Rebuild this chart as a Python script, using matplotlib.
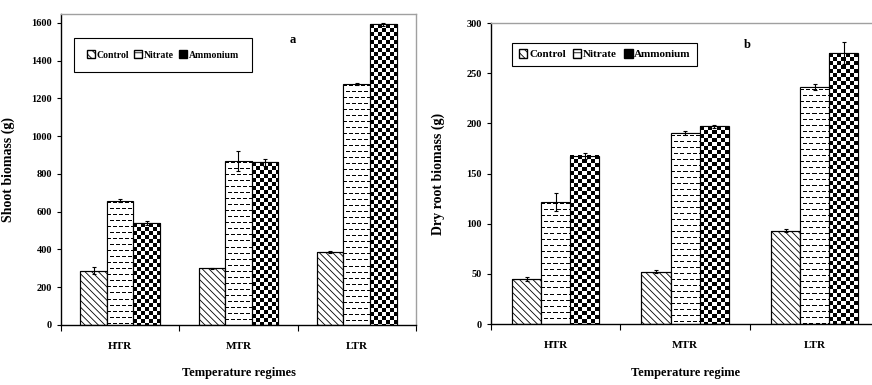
import matplotlib
matplotlib.use('Agg')
import matplotlib.pyplot as plt
import numpy as np
from matplotlib.patches import Patch

plt.rcParams['font.family'] = ['Liberation Serif', 'DejaVu Serif']
plt.rcParams['font.weight'] = 'bold'
plt.rcParams['axes.labelweight'] = 'bold'
plt.rcParams['hatch.linewidth'] = 0.6

# data
regimes = ['HTR', 'MTR', 'LTR']
treatments = ['Control', 'Nitrate', 'Ammonium']

shoot_control = [288, 300, 387]
shoot_nitrate = [658, 869, 1278]
shoot_ammonium = [540, 862, 1593]
shoot_control_err = [20, 3, 4]
shoot_nitrate_err = [8, 53, 5]
shoot_ammonium_err = [8, 19, 8]

root_control = [45, 52, 93]
root_nitrate = [122, 190, 236]
root_ammonium = [168, 197, 270]
root_control_err = [2, 1.5, 1.5]
root_nitrate_err = [9, 2, 3]
root_ammonium_err = [3, 1.5, 11]

OS = 3  # oversampling of the texture images


def texture(ax, bar, kind):
    # fill a bar with a pixel pattern (checker / dashed), clipped to the bar
    x0, y0 = bar.get_x(), bar.get_y()
    w, h = bar.get_width(), bar.get_height()
    p0 = ax.transData.transform((x0, y0))
    p1 = ax.transData.transform((x0 + w, y0 + h))
    nx = max(int(round((p1[0] - p0[0]) * OS)), 1)
    ny = max(int(round((p1[1] - p0[1]) * OS)), 1)
    jj, ii = np.meshgrid(np.arange(nx) // OS, np.arange(ny) // OS)
    if kind == 'check':
        black = ((jj // 4 + ii // 4) % 2) == 0
    else:
        row = ii % 6 == 2
        shift = 3 * ((ii // 6) % 2)
        black = row & (((jj + shift) % 6) < 4)
    img = np.where(black, 0.0, 1.0)
    ax.imshow(img, cmap='gray', vmin=0, vmax=1, extent=(x0, x0 + w, y0, y0 + h),
              origin='upper', aspect='auto', interpolation='nearest', zorder=2,
              clip_path=bar)


def panel(ax, series, errs, ymax, yticks, ylabel, xlabel, tag, leg_anchor, tag_pos,
          ylab_x, leg_fs, leg_pad):
    ax.set_xlim(0, 3)
    ax.set_ylim(0, ymax)
    x = np.arange(3) + 0.5
    wd = 0.225
    kinds = ['hatch', 'dash', 'check']
    for k, (vals, err) in enumerate(zip(series, errs)):
        pos = x + (k - 1) * wd
        bars = ax.bar(pos, vals, wd, color='white', edgecolor='black', lw=0.8,
                      hatch='\\\\\\\\\\' if k == 0 else None, zorder=1)
        if k > 0:
            for b in bars:
                texture(ax, b, kinds[k])
        ax.bar(pos, vals, wd, fill=False, edgecolor='black', lw=0.8, zorder=3)
        ax.errorbar(pos, vals, yerr=err, fmt='none', ecolor='black', elinewidth=0.8,
                    capsize=1.5, capthick=0.8, zorder=4)
    ax.set_xlim(0, 3)
    ax.set_ylim(0, ymax)

    ax.set_xticks([0, 1, 2, 3])
    ax.set_xticklabels([])
    ax.tick_params(axis='x', which='major', direction='out', length=4, width=0.8)
    ax.set_xticks(x, minor=True)
    ax.set_xticklabels(regimes, minor=True, fontsize=8)
    ax.tick_params(axis='x', which='minor', length=0, pad=12)
    ax.set_yticks(yticks)
    ax.tick_params(axis='y', direction='out', length=3, width=0.8, labelsize=7.5)

    ax.spines['left'].set_linewidth(1)
    ax.spines['bottom'].set_linewidth(1)
    for s in ['top', 'right']:
        ax.spines[s].set_color('#a0a0a0')
        ax.spines[s].set_linewidth(1)

    ax.set_xlabel(xlabel, fontsize=9, labelpad=12)
    ax.set_ylabel(ylabel, fontsize=10)
    ax.yaxis.set_label_coords(ylab_x, 0.5)
    ax.text(tag_pos[0], tag_pos[1], tag, transform=ax.transAxes, fontsize=9,
            ha='center', va='center')

    handles = [Patch(facecolor='white', edgecolor='black', hatch='\\\\\\\\'),
               Patch(facecolor='white', edgecolor='black', hatch='---'),
               Patch(facecolor='black', edgecolor='black', hatch='++')]
    leg = ax.legend(handles, treatments, ncol=3, loc='upper left', bbox_to_anchor=leg_anchor,
                    fancybox=False, edgecolor='black', framealpha=1, fontsize=leg_fs,
                    handlelength=0.8, handleheight=0.8, handletextpad=0.15,
                    columnspacing=0.6, borderpad=leg_pad, borderaxespad=0)
    leg.get_frame().set_linewidth(0.8)


fig = plt.figure(figsize=(8.72, 3.85), dpi=100)
ax1 = fig.add_axes([0.070, 0.156, 0.407, 0.808])
ax2 = fig.add_axes([0.563, 0.158, 0.4455, 0.782])

panel(ax1, [shoot_control, shoot_nitrate, shoot_ammonium],
      [shoot_control_err, shoot_nitrate_err, shoot_ammonium_err],
      1648, range(0, 1601, 200), 'Shoot biomass (g)', 'Temperature regimes', 'a',
      (0.037, 0.923), (0.654, 0.916), -0.13, 7, 1.3)
panel(ax2, [root_control, root_nitrate, root_ammonium],
      [root_control_err, root_nitrate_err, root_ammonium_err],
      300, range(0, 301, 50), 'Dry root biomass (g)', 'Temperature regime', 'b',
      (0.054, 0.935), (0.659, 0.928), -0.118, 8, 0.6)
ax2.spines['right'].set_visible(False)

fig.savefig('out.png', dpi=100)
